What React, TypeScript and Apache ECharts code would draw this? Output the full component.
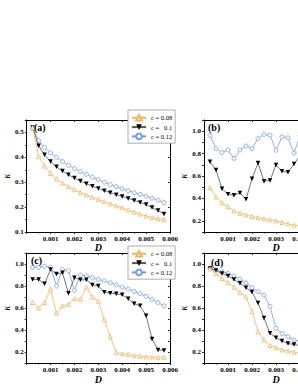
import React, { useEffect, useRef } from "react";
import * as echarts from "echarts";

// ---- data ----
const D_VALUES = [
  0.00025, 0.0005, 0.00075, 0.001, 0.00125, 0.0015, 0.00175, 0.002, 0.00225, 0.0025,
  0.00275, 0.003, 0.00325, 0.0035, 0.00375, 0.004, 0.00425, 0.0045, 0.00475, 0.005,
  0.00525, 0.0055, 0.00575,
];
const SERIES_NAMES = ["c = 0.08", "c =   0.1", "c = 0.12"];
const PANEL_LABELS = ["(a)", "(b)", "(c)", "(d)"];

// panel (a)
const A_C008 = [0.52, 0.404, 0.365, 0.335, 0.313, 0.296, 0.282, 0.27, 0.259, 0.249, 0.24, 0.231, 0.222, 0.213, 0.205, 0.197, 0.188, 0.18, 0.172, 0.164, 0.158, 0.153, 0.15];
const A_C010 = [0.52, 0.447, 0.41, 0.383, 0.362, 0.345, 0.33, 0.317, 0.305, 0.294, 0.284, 0.275, 0.266, 0.258, 0.25, 0.243, 0.235, 0.227, 0.219, 0.21, 0.198, 0.186, 0.172];
const A_C012 = [0.517, 0.468, 0.44, 0.418, 0.4, 0.383, 0.368, 0.355, 0.343, 0.332, 0.32, 0.31, 0.3, 0.291, 0.282, 0.274, 0.266, 0.258, 0.251, 0.244, 0.236, 0.228, 0.218];

// panel (b) (visible part)
const B_C008 = [0.496, 0.413, 0.361, 0.326, 0.287, 0.267, 0.252, 0.238, 0.229, 0.217, 0.208, 0.2, 0.185, 0.173, 0.161, 0.155];
const B_C010 = [0.727, 0.654, 0.487, 0.437, 0.428, 0.449, 0.393, 0.575, 0.716, 0.554, 0.56, 0.698, 0.642, 0.633, 0.707, 0.78];
const B_C012 = [0.962, 0.845, 0.809, 0.833, 0.757, 0.833, 0.868, 0.845, 0.935, 0.971, 0.965, 0.83, 0.95, 0.941, 0.804, 0.96];

// panel (c)
const C_C008 = [0.65, 0.6, 0.65, 0.773, 0.553, 0.62, 0.632, 0.685, 0.68, 0.79, 0.7, 0.662, 0.494, 0.34, 0.195, 0.185, 0.18, 0.168, 0.162, 0.156, 0.155, 0.15, 0.15];
const C_C010 = [0.86, 0.86, 0.82, 0.95, 0.91, 0.92, 0.735, 0.876, 0.856, 0.856, 0.81, 0.8, 0.744, 0.735, 0.73, 0.72, 0.685, 0.64, 0.62, 0.53, 0.32, 0.22, 0.215];
const C_C012 = [0.97, 0.97, 0.98, 0.97, 0.8, 0.95, 0.94, 0.76, 0.9, 0.89, 0.876, 0.86, 0.847, 0.83, 0.81, 0.79, 0.774, 0.75, 0.73, 0.706, 0.68, 0.65, 0.62];

// panel (d) (visible part)
const D_C008 = [0.955, 0.914, 0.868, 0.83, 0.79, 0.74, 0.7, 0.57, 0.385, 0.31, 0.26, 0.24, 0.22, 0.21, 0.2, 0.19];
const D_C010 = [0.96, 0.94, 0.914, 0.89, 0.86, 0.825, 0.785, 0.745, 0.646, 0.51, 0.37, 0.33, 0.3, 0.277, 0.27, 0.258];
const D_C012 = [0.96, 0.945, 0.93, 0.914, 0.892, 0.862, 0.83, 0.785, 0.748, 0.717, 0.615, 0.415, 0.369, 0.338, 0.308, 0.3];

const PANELS = [
  [A_C008, A_C010, A_C012],
  [B_C008, B_C010, B_C012],
  [C_C008, C_C010, C_C012],
  [D_C008, D_C010, D_C012],
];

const ORANGE = "#f6b356";
const BLACK = "#000000";
const BLUE = "#6f9cf2";
const FONT = '"Liberation Serif", "DejaVu Serif", serif';

export default function App() {
  const ref = useRef<HTMLDivElement>(null);

  useEffect(() => {
    if (!ref.current) return;
    const chart = echarts.init(ref.current, undefined, { renderer: "svg" });

    const grids = [
      { left: 26, top: 120, width: 144, height: 112 },
      { left: 204, top: 120, width: 144, height: 112 },
      { left: 26, top: 253, width: 144, height: 112 },
      { left: 204, top: 253, width: 144, height: 112 },
    ];
    const yRanges = [
      { min: 0.1, max: 0.55 },
      { min: 0.1, max: 1.1 },
      { min: 0.1, max: 1.1 },
      { min: 0.1, max: 1.1 },
    ];

    const axisLine = { show: true, onZero: false, lineStyle: { color: "#000", width: 1 } };
    const labelStyle = { fontSize: 7, fontWeight: "bold", fontFamily: FONT, color: "#000" };

    const xAxes: any[] = [];
    const yAxes: any[] = [];
    grids.forEach((_, i) => {
      xAxes.push({
        type: "value",
        gridIndex: i,
        position: "bottom",
        min: 0,
        max: 0.006,
        interval: 0.001,
        axisLine,
        axisTick: { show: true, length: 2, lineStyle: { color: "#000", width: 0.8 } },
        minorTick: { show: true, splitNumber: 2, length: 1.5, lineStyle: { color: "#000", width: 0.8 } },
        splitLine: { show: false },
        axisLabel: {
          ...labelStyle,
          margin: 3,
          formatter: (v: number) => (v < 0.0005 || v > 0.0061 ? "" : v.toFixed(3)),
        },
        name: "D",
        nameLocation: "middle",
        nameGap: 10,
        nameTextStyle: { fontStyle: "italic", fontWeight: "bold", fontSize: 10, fontFamily: FONT, color: "#000" },
      });
      const isA = i === 0;
      yAxes.push({
        type: "value",
        gridIndex: i,
        position: "left",
        min: yRanges[i].min,
        max: yRanges[i].max,
        interval: 0.1,
        axisLine,
        axisTick: { show: true, length: 2, lineStyle: { color: "#000", width: 0.8 } },
        minorTick: { show: isA, splitNumber: 2, length: 1.5, lineStyle: { color: "#000", width: 0.8 } },
        splitLine: { show: false },
        axisLabel: {
          ...labelStyle,
          margin: 3,
          formatter: (v: number) => {
            const k = Math.round(v * 100);
            if (k % 10 !== 0) return "";
            const t = Math.round(v * 10);
            if (isA) return t >= 1 && t <= 5 ? (t / 10).toFixed(1) : "";
            return t % 2 === 0 && t >= 2 && t <= 10 ? (t / 10).toFixed(1) : "";
          },
        },
        name: "κ",
        nameLocation: "middle",
        nameRotate: 90,
        nameGap: 14,
        nameTextStyle: { fontStyle: "italic", fontSize: 10, fontFamily: FONT, color: "#000" },
      });
    });
    grids.forEach((_, i) => {
      xAxes.push({
        type: "value",
        gridIndex: i,
        position: "top",
        min: 0,
        max: 0.006,
        interval: 0.001,
        axisLine,
        axisTick: { show: true, inside: true, length: 2, lineStyle: { color: "#000", width: 0.8 } },
        axisLabel: { show: false },
        splitLine: { show: false },
      });
      yAxes.push({
        type: "value",
        gridIndex: i,
        position: "right",
        min: yRanges[i].min,
        max: yRanges[i].max,
        interval: 0.1,
        axisLine,
        axisTick: { show: true, inside: true, length: 2, lineStyle: { color: "#000", width: 0.8 } },
        axisLabel: { show: false },
        splitLine: { show: false },
      });
    });

    const styles = [
      {
        symbol: "triangle",
        symbolRotate: 0,
        itemStyle: { color: "#fff", borderColor: ORANGE, borderWidth: 0.8 },
        lineStyle: { color: ORANGE, width: 0.8 },
      },
      {
        symbol: "triangle",
        symbolRotate: 180,
        itemStyle: { color: BLACK, borderColor: BLACK, borderWidth: 0 },
        lineStyle: { color: "#555", width: 0.8 },
      },
      {
        symbol: "circle",
        symbolRotate: 0,
        itemStyle: { color: "#fff", borderColor: BLUE, borderWidth: 0.8 },
        lineStyle: { color: BLUE, width: 0.8 },
      },
    ];

    const series: any[] = [];
    PANELS.forEach((panel, i) => {
      panel.forEach((vals, s) => {
        series.push({
          type: "line",
          name: SERIES_NAMES[s],
          xAxisIndex: i,
          yAxisIndex: i,
          data: vals.map((v, k) => [D_VALUES[k], v]),
          symbol: styles[s].symbol,
          symbolRotate: styles[s].symbolRotate,
          symbolSize: s === 1 ? 4.5 : 4,
          showAllSymbol: true,
          itemStyle: styles[s].itemStyle,
          lineStyle: styles[s].lineStyle,
          emphasis: { disabled: true },
          z: 3 + (2 - s),
        });
      });
    });

    const legendBase = {
      orient: "vertical",
      left: 128,
      itemWidth: 14,
      itemHeight: 7,
      itemGap: 2,
      padding: [4, 3, 3, 3],
      backgroundColor: "#fff",
      borderColor: "#9a9a9a",
      borderWidth: 0.8,
      borderRadius: 0,
      selectedMode: false,
      data: SERIES_NAMES,
      textStyle: { fontSize: 6.5, fontFamily: FONT, color: "#000", lineHeight: 7 },
      z: 10,
    };

    const graphic = PANEL_LABELS.map((t, i) => ({
      type: "text",
      left: [34, 208, 31, 211][i],
      top: [122, 122, 255, 257][i],
      z: 20,
      style: { text: t, font: `bold 10px ${FONT}`, fill: "#000" },
    }));

    chart.setOption({
      animation: false,
      backgroundColor: "#fff",
      grid: grids,
      xAxis: xAxes,
      yAxis: yAxes,
      series,
      legend: [
        { ...legendBase, top: 110 },
        { ...legendBase, top: 246 },
      ],
      graphic,
    });

    return () => chart.dispose();
  }, []);

  return (
    <div
      style={{
        position: "fixed",
        left: 0,
        top: 0,
        width: 298,
        height: 385,
        overflow: "hidden",
        background: "#fff",
      }}
    >
      <div ref={ref} style={{ width: 370, height: 385 }} />
    </div>
  );
}
